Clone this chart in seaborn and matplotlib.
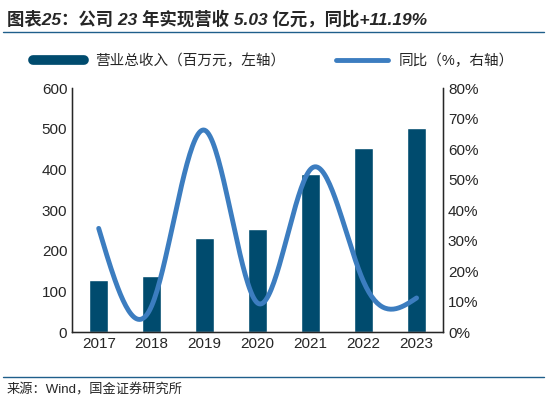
import numpy as np
import pandas as pd
import seaborn as sns
import matplotlib.pyplot as plt
from matplotlib.lines import Line2D

sns.set_style("white")
plt.rcParams['font.family'] = ['Liberation Sans', 'Noto Sans CJK SC', 'DejaVu Sans']

years = ['2017', '2018', '2019', '2020', '2021', '2022', '2023']
revenue = [128, 139, 231, 253, 388, 452, 503]
yoy = [34.0, 8.6, 66.2, 9.5, 53.4, 16.5, 11.19]

bar_color = '#004B6E'
line_color = '#3C7DC0'

df = pd.DataFrame({'year': years, 'revenue': revenue, 'yoy': yoy})

fig = plt.figure(figsize=(5.47, 4.04), dpi=100)
ax = fig.add_axes([0.132, 0.178, 0.678, 0.604])

sns.barplot(data=df, x='year', y='revenue', color=bar_color, width=0.36,
            saturation=1, ax=ax)
ax.set_ylim(0, 600)
ax.set_yticks(range(0, 601, 100))
ax.set_xlim(-0.5, 6.5)
ax.set_xlabel('')
ax.set_ylabel('')
ax.tick_params(axis='both', labelsize=11, length=0)
ax.spines['top'].set_visible(False)
for s in ['left', 'bottom', 'right']:
    ax.spines[s].set_color('black')
    ax.spines[s].set_linewidth(1)
# category separator ticks on bottom axis
ax.set_xticks(np.arange(-0.5, 7, 1), minor=True)
ax.tick_params(axis='x', which='minor', direction='in', length=4, color='black')

ax2 = ax.twinx()
# smooth curve through the yoy points (natural cubic spline)
x = np.arange(len(yoy), dtype=float)
y = np.array(yoy)
n = len(x)
A = np.zeros((n, n)); b = np.zeros(n)
A[0, 0] = A[-1, -1] = 1
for i in range(1, n - 1):
    A[i, i - 1], A[i, i], A[i, i + 1] = 1, 4, 1
    b[i] = 6 * (y[i + 1] - 2 * y[i] + y[i - 1])
M = np.linalg.solve(A, b)
xs, ys = [], []
for i in range(n - 1):
    t = np.linspace(0, 1, 40)
    seg = ((1 - t) * y[i] + t * y[i + 1]
           + ((1 - t) ** 3 - (1 - t)) * M[i] / 6 + (t ** 3 - t) * M[i + 1] / 6)
    xs.extend(x[i] + t); ys.extend(seg)
sns.lineplot(x=xs, y=ys, color=line_color, linewidth=3.5, ax=ax2, sort=False)
ax2.set_ylim(0, 80)
ax2.set_yticks(range(0, 81, 10))
ax2.set_yticklabels([f'{v}%' for v in range(0, 81, 10)])
ax2.tick_params(axis='y', labelsize=11, length=0)
ax2.spines['top'].set_visible(False)
ax2.set_xlim(-0.5, 6.5)

handles = [Line2D([0], [0], color=bar_color, lw=7),
           Line2D([0], [0], color=line_color, lw=3.5)]
fig.legend(handles, ['营业总收入（百万元，左轴）', '同比（%，右轴）'],
           loc='center', bbox_to_anchor=(0.5, 0.85), ncol=2, frameon=False,
           fontsize=10.5, handlelength=3.5, columnspacing=3.5)

fig.text(0.012, 0.955, '图表25：公司 23 年实现营收 5.03 亿元，同比+11.19%',
         fontsize=12.5, fontweight='bold', style='italic', va='center')
fig.add_artist(Line2D([0.005, 0.995], [0.922, 0.922], color='#1F5F8B', lw=1))
fig.add_artist(Line2D([0.005, 0.995], [0.068, 0.068], color='#1F5F8B', lw=1))
fig.text(0.012, 0.035, '来源：Wind，国金证券研究所', fontsize=9.5, va='center')

fig.savefig('out.png', dpi=100)
